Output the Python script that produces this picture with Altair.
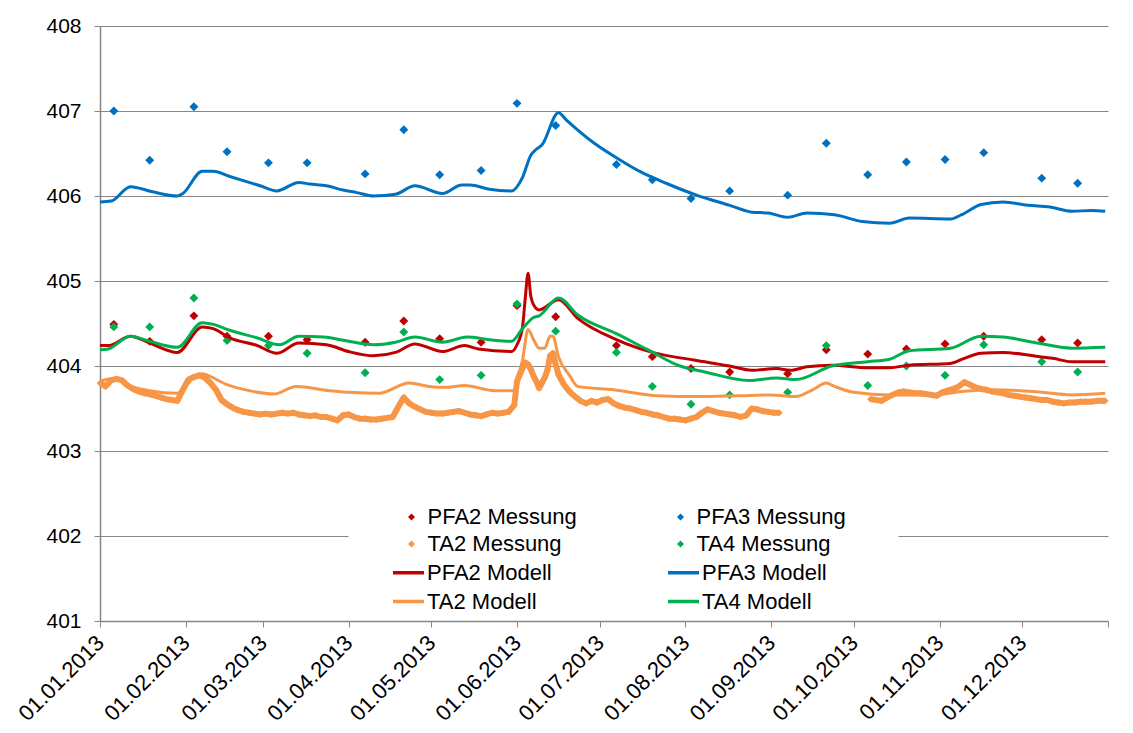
import altair as alt
import pandas as pd

# ---------------- data ----------------
# measurement dates (day offset from 01.01.2013), roughly bi-weekly
meas_days = [5, 18, 34, 46, 61, 75, 96, 110, 123, 138, 151, 165, 187, 200,
             214, 228, 249, 263, 278, 292, 306, 320, 341, 354]
pfa2_mess = [404.49, 404.29, 404.59, 404.35, 404.35, 404.31, 404.28, 404.53,
             404.32, 404.28, 404.71, 404.58, 404.24, 404.11, 403.97, 403.93,
             403.91, 404.19, 404.14, 404.20, 404.26, 404.35, 404.31, 404.27]
pfa3_mess = [407.00, 406.42, 407.05, 406.52, 406.39, 406.39, 406.26, 406.78,
             406.25, 406.30, 407.09, 406.83, 406.37, 406.19, 405.97, 406.06,
             406.01, 406.62, 406.25, 406.40, 406.43, 406.51, 406.21, 406.15]
ta4_mess = [404.46, 404.46, 404.80, 404.30, 404.24, 404.15, 403.92, 404.40,
            403.84, 403.89, 404.73, 404.41, 404.16, 403.76, 403.55, 403.66,
            403.69, 404.24, 403.77, 404.00, 403.89, 404.25, 404.05, 403.93]

# TA2 Messung (logger, dense)
ta2_mess_days = [0, 2, 4, 6, 8, 10, 12, 14, 16, 18, 20, 22, 24, 26, 28,
                 30, 32, 34, 36, 38, 40, 42, 44, 46, 48, 50, 52, 54, 56, 58,
                 60, 62, 64, 66, 68, 70, 72, 74, 76, 78, 80, 82, 84, 86, 88,
                 90, 92, 94, 96, 98, 100, 102, 104, 106, 108, 110, 112, 114,
                 116, 118, 120, 122, 124, 126, 128, 130, 132, 134, 136, 138,
                 140, 142, 144, 146, 148,
                 150, 151, 152, 153, 154, 155, 156, 157, 158, 159, 160, 161,
                 162, 163, 164, 165, 166, 168, 170, 172, 174, 176, 178, 180,
                 182, 184, 186, 188, 190, 192, 194, 196, 198, 200, 202, 204,
                 206, 208, 210, 212, 214, 216, 218, 220, 222, 224, 226, 228,
                 230, 232, 234, 236, 238, 240, 242, 244, 246,
                 279, 281, 283, 285, 287, 289, 291, 293, 295, 297, 299, 301,
                 303, 305, 307, 309, 311, 313, 315, 317, 319, 321, 323, 325,
                 327, 329, 331, 333, 335, 337, 339, 341, 343, 345, 347, 349,
                 351, 353, 355, 357, 359, 361, 363, 364]
ta2_mess = [403.80, 403.76, 403.83, 403.85, 403.83, 403.77, 403.73, 403.70,
            403.68, 403.67, 403.65, 403.63, 403.61, 403.60, 403.59,
            403.72, 403.84, 403.87, 403.89, 403.86, 403.80, 403.72, 403.60,
            403.55, 403.51, 403.48, 403.46, 403.45, 403.44, 403.43,
            403.44, 403.43, 403.44, 403.45, 403.44, 403.45, 403.43, 403.42,
            403.41, 403.42, 403.40, 403.40, 403.38, 403.36, 403.42,
            403.43, 403.40, 403.38, 403.38, 403.37, 403.37, 403.38, 403.39,
            403.40, 403.52, 403.63, 403.56, 403.52,
            403.49, 403.46, 403.45, 403.44, 403.44, 403.45, 403.46, 403.47,
            403.45, 403.43, 403.42, 403.41,
            403.43, 403.45, 403.44, 403.45, 403.46,
            403.54, 403.82, 403.90, 403.97, 404.04, 404.02, 403.96, 403.88,
            403.82, 403.74, 403.80, 403.86,
            403.95, 404.12, 404.15, 404.02, 403.90, 403.78, 403.70, 403.64,
            403.59, 403.56, 403.59, 403.57,
            403.60, 403.61, 403.56, 403.53, 403.51, 403.50, 403.48, 403.46,
            403.45, 403.43, 403.42, 403.40,
            403.38, 403.38, 403.37, 403.36, 403.38, 403.40, 403.45, 403.49,
            403.47, 403.45, 403.44, 403.43,
            403.42, 403.40, 403.42, 403.50, 403.49, 403.47, 403.46, 403.45,
            403.45,
            403.61, 403.60, 403.59, 403.63, 403.66, 403.69, 403.70, 403.69,
            403.68, 403.68, 403.67, 403.66,
            403.65, 403.69, 403.71, 403.73, 403.76, 403.81, 403.78, 403.75,
            403.73, 403.72, 403.70, 403.69,
            403.68, 403.66, 403.65, 403.64, 403.63, 403.62, 403.61, 403.60,
            403.60, 403.58, 403.57, 403.56,
            403.57, 403.57, 403.58, 403.58, 403.58, 403.59, 403.59, 403.59]

# model series
pfa2_mod_days = [0, 3, 11, 18, 28, 37, 41, 47, 57, 64, 72, 82, 90, 99, 107,
                 114, 124, 132, 137, 149, 151, 153, 154, 155, 156, 157, 159,
                 166, 173, 187, 200, 215, 228, 236, 245, 250, 256, 265, 278,
                 286, 293, 308, 313, 319, 327, 338, 345, 352, 364]
pfa2_mod = [404.24, 404.24, 404.35, 404.27, 404.16, 404.46, 404.44, 404.33,
            404.24, 404.15, 404.27, 404.25, 404.17, 404.12, 404.16, 404.26,
            404.17, 404.24, 404.20, 404.17, 404.25, 404.46, 404.80, 405.09,
            404.82, 404.72, 404.66, 404.78, 404.56, 404.31, 404.16, 404.07,
            404.00, 403.95, 403.97, 403.95, 403.99, 404.01, 403.98, 403.98,
            404.01, 404.03, 404.09, 404.15, 404.16, 404.12, 404.09, 404.05,
            404.05]

pfa3_mod_days = [0, 4, 11, 19, 28, 30, 37, 41, 47, 58, 64, 72, 76, 82, 88,
                 93, 99, 107, 114, 124, 131, 134, 141, 149, 153, 156, 158,
                 160, 166, 169, 179, 188, 196, 205, 216, 228, 236, 242, 249,
                 256, 266, 276, 286, 293, 308, 312, 319, 327, 336, 344, 352,
                 359, 364]
pfa3_mod = [405.93, 405.94, 406.11, 406.05, 406.00, 406.03, 406.29, 406.29,
            406.23, 406.12, 406.06, 406.16, 406.14, 406.12, 406.07, 406.04,
            406.00, 406.02, 406.12, 406.03, 406.13, 406.13, 406.08, 406.06,
            406.22, 406.48, 406.55, 406.60, 406.98, 406.89, 406.62, 406.43,
            406.28, 406.15, 406.01, 405.89, 405.81, 405.80, 405.75, 405.80,
            405.78, 405.70, 405.68, 405.74, 405.73, 405.78, 405.90, 405.93,
            405.89, 405.87, 405.82, 405.83, 405.82]

ta2_mod_days = [0, 4, 7, 10, 18, 28, 31, 34, 37, 39, 46, 54, 63, 71, 83, 90,
                101, 112, 119, 125, 132, 143, 150, 151, 153, 155, 157, 159,
                161, 163, 164, 166, 170, 173, 186, 202, 216, 231, 243, 252,
                258, 263, 266, 273, 286, 302, 312, 323, 338, 352, 364]
ta2_mod = [403.82, 403.85, 403.85, 403.78, 403.71, 403.68, 403.76, 403.87,
           403.91, 403.89, 403.78, 403.71, 403.67, 403.76, 403.71, 403.69,
           403.68, 403.80, 403.76, 403.75, 403.77, 403.71, 403.71, 403.84,
           404.07, 404.43, 404.31, 404.21, 404.21, 404.35, 404.35, 404.11,
           403.89, 403.76, 403.72, 403.65, 403.64, 403.65, 403.66, 403.64,
           403.72, 403.80, 403.76, 403.69, 403.66, 403.66, 403.70, 403.72,
           403.70, 403.66, 403.68]

ta4_mod_days = [0, 3, 11, 18, 28, 37, 41, 47, 57, 65, 72, 81, 90, 99, 107,
                114, 124, 133, 141, 149, 153, 157, 159, 166, 173, 187, 199,
                210, 219, 235, 245, 252, 265, 278, 286, 293, 308, 319, 327,
                338, 352, 364]
ta4_mod = [404.19, 404.20, 404.35, 404.29, 404.22, 404.51, 404.49, 404.42,
           404.33, 404.25, 404.35, 404.34, 404.29, 404.25, 404.28, 404.34,
           404.28, 404.34, 404.31, 404.29, 404.44, 404.57, 404.59, 404.80,
           404.60, 404.38, 404.18, 404.00, 403.93, 403.83, 403.86, 403.84,
           404.00, 404.05, 404.08, 404.18, 404.21, 404.35, 404.34, 404.28,
           404.21, 404.22]

# legend entries are laid out column by column
mess_names = ["PFA2 Messung", "TA2 Messung", "PFA3 Messung", "TA4 Messung"]
mess_colors = ["#C00000", "#F79646", "#0070C0", "#00B050"]
mod_names = ["PFA2 Modell", "TA2 Modell", "PFA3 Modell", "TA4 Modell"]
mod_colors = ["#C00000", "#F79646", "#0070C0", "#00B050"]

# ---------------- tables ----------------
BASE = pd.Timestamp("2013-01-01")


def table(name, days, vals):
    return pd.DataFrame({
        "date": [BASE + pd.Timedelta(days=d) for d in days],
        "value": vals,
        "series": name,
    })


points_df = pd.concat([
    table("PFA2 Messung", meas_days, pfa2_mess),
    table("PFA3 Messung", meas_days, pfa3_mess),
    table("TA2 Messung", ta2_mess_days, ta2_mess),
    table("TA4 Messung", meas_days, ta4_mess),
], ignore_index=True)

# the logger record has gaps; split it into runs so the band breaks there
ta2_df = table("TA2 Messung", ta2_mess_days, ta2_mess)
ta2_df["run"] = (pd.Series(ta2_mess_days).diff().fillna(0) > 3).cumsum()

lines_df = pd.concat([
    table("PFA2 Modell", pfa2_mod_days, pfa2_mod),
    table("PFA3 Modell", pfa3_mod_days, pfa3_mod),
    table("TA2 Modell", ta2_mod_days, ta2_mod),
    table("TA4 Modell", ta4_mod_days, ta4_mod),
], ignore_index=True)

FONT = "Liberation Sans"
GRID = "#868686"

tick_dates = [alt.DateTime(year=2013, month=m, date=1) for m in range(1, 13)] + \
             [alt.DateTime(year=2014, month=1, date=1)]

x_enc = alt.X(
    "date:T",
    scale=alt.Scale(domain=[alt.DateTime(year=2013, month=1, date=1),
                            alt.DateTime(year=2014, month=1, date=1)]),
    axis=alt.Axis(
        title=None, values=tick_dates, grid=False,
        labelExpr="year(datum.value) == 2014 ? '' : timeFormat(datum.value, '%d.%m.%Y')",
        labelAngle=-45, labelAlign="right", labelBaseline="middle",
        labelFontSize=22, labelFont=FONT, labelColor="black",
        labelPadding=12, labelOverlap=False, labelBound=False, labelFlush=False,
        tickSize=6, tickColor=GRID, domainColor=GRID, domainWidth=1.5,
    ),
)
y_enc = alt.Y(
    "value:Q",
    scale=alt.Scale(domain=[401, 408], nice=False, zero=False),
    axis=alt.Axis(
        title=None, values=[401, 402, 403, 404, 405, 406, 407, 408], format="d",
        labelFontSize=21, labelFont=FONT, labelColor="black", labelPadding=13,
        tickSize=6, tickColor=GRID, domainColor=GRID, domainWidth=1.5,
        gridColor=GRID, gridWidth=1.2,
    ),
)

# dense logger record drawn as a band of overlapping small markers
ta2_band = alt.Chart(ta2_df).mark_line(
    color="#F79646", strokeWidth=6, strokeJoin="round"
).encode(x=x_enc, y=y_enc, detail="run:N")

points = alt.Chart(points_df).mark_point(
    filled=True, shape="diamond", opacity=1, strokeWidth=0
).encode(
    x=x_enc, y=y_enc,
    size=alt.condition(alt.datum.series == "TA2 Messung", alt.value(45), alt.value(80)),
    color=alt.Color(
        "series:N",
        scale=alt.Scale(domain=mess_names, range=mess_colors),
        legend=alt.Legend(
            title=None, orient="none", legendX=248.5, legendY=428,
            columns=2, columnPadding=92, rowPadding=5,
            symbolType="diamond", symbolSize=49, symbolStrokeWidth=0,
            labelFontSize=22, labelFont=FONT, labelColor="black",
            labelOffset=5, labelLimit=300,
            padding=52, fillColor="white", zindex=0,
        ),
    ),
)

lines = alt.Chart(lines_df).mark_line(
    strokeWidth=3, interpolate="monotone"
).encode(
    x=x_enc, y=y_enc,
    color=alt.Color(
        "series:N",
        scale=alt.Scale(domain=mod_names, range=mod_colors),
        legend=alt.Legend(
            title=None, orient="none", legendX=291, legendY=529,
            columns=2, columnPadding=109, rowPadding=-4,
            symbolType="stroke", symbolSize=961, symbolStrokeWidth=3.5,
            labelFontSize=22, labelFont=FONT, labelColor="black",
            labelOffset=1, labelLimit=300,
            padding=0, zindex=1,
        ),
    ),
)

chart = alt.layer(ta2_band, points, lines).resolve_scale(color="independent").properties(
    width=1008, height=595,
    autosize=alt.AutoSizeParams(type="none"),
    padding={"left": 92, "top": 18, "right": 15, "bottom": 107},
).configure_view(stroke="transparent")

chart.save("out.html", embed_options={"renderer": "svg", "actions": False})
